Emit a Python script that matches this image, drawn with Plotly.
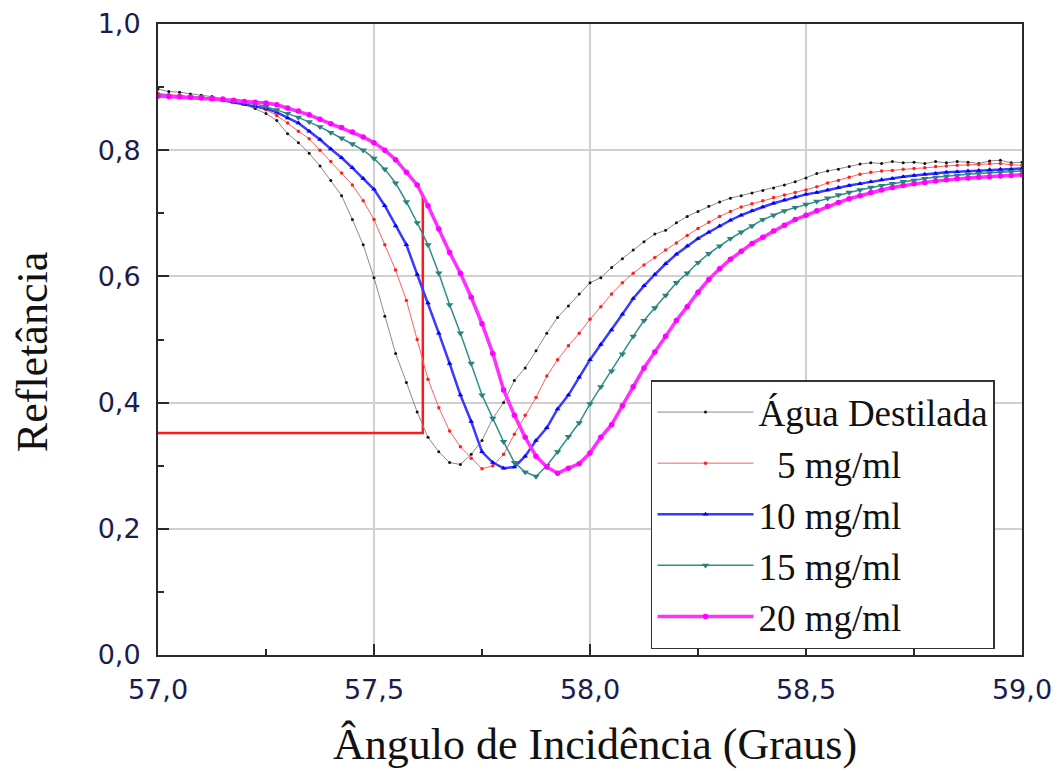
import numpy as np
import plotly.graph_objects as go

# Angle of incidence (degrees), step 0.025
angles = [round(57.0 + 0.025 * i, 3) for i in range(81)]

agua = [0.897, 0.893, 0.892, 0.889, 0.887, 0.885, 0.882, 0.878, 0.873, 0.866,
        0.858, 0.847, 0.826, 0.812, 0.795, 0.775, 0.752, 0.728, 0.690, 0.650,
        0.598, 0.537, 0.478, 0.432, 0.385, 0.345, 0.322, 0.305, 0.302, 0.318,
        0.340, 0.375, 0.400, 0.435, 0.455, 0.482, 0.510, 0.535, 0.553, 0.572,
        0.590, 0.598, 0.614, 0.628, 0.642, 0.655, 0.667, 0.673, 0.685, 0.695,
        0.703, 0.711, 0.718, 0.724, 0.728, 0.732, 0.736, 0.740, 0.745, 0.750,
        0.756, 0.763, 0.767, 0.770, 0.774, 0.778, 0.780, 0.779, 0.782, 0.780,
        0.781, 0.779, 0.782, 0.780, 0.782, 0.781, 0.779, 0.783, 0.784, 0.780,
        0.781]

c5 = [0.890, 0.888, 0.887, 0.885, 0.884, 0.882, 0.880, 0.877, 0.874, 0.869,
      0.864, 0.855, 0.843, 0.830, 0.818, 0.800, 0.782, 0.764, 0.745, 0.720,
      0.690, 0.650, 0.610, 0.562, 0.500, 0.437, 0.392, 0.355, 0.330, 0.312,
      0.295, 0.300, 0.318, 0.350, 0.380, 0.408, 0.442, 0.468, 0.490, 0.510,
      0.532, 0.552, 0.572, 0.590, 0.605, 0.618, 0.630, 0.642, 0.653, 0.665,
      0.676, 0.686, 0.695, 0.703, 0.710, 0.715, 0.720, 0.725, 0.729, 0.733,
      0.737, 0.742, 0.748, 0.752, 0.757, 0.762, 0.765, 0.767, 0.768, 0.770,
      0.771, 0.772, 0.774, 0.775, 0.776, 0.777, 0.777, 0.779, 0.779, 0.777,
      0.776]

c10 = [0.887, 0.886, 0.885, 0.884, 0.883, 0.881, 0.879, 0.876, 0.873, 0.870,
       0.866, 0.860, 0.851, 0.843, 0.830, 0.817, 0.802, 0.788, 0.772, 0.755,
       0.738, 0.712, 0.680, 0.650, 0.603, 0.558, 0.510, 0.462, 0.412, 0.370,
       0.322, 0.305, 0.296, 0.298, 0.315, 0.340, 0.360, 0.390, 0.412, 0.440,
       0.468, 0.492, 0.515, 0.540, 0.565, 0.585, 0.603, 0.620, 0.635, 0.648,
       0.660, 0.670, 0.680, 0.689, 0.697, 0.704, 0.710, 0.716, 0.721, 0.726,
       0.730, 0.733, 0.737, 0.741, 0.744, 0.747, 0.750, 0.753, 0.755, 0.758,
       0.760, 0.762, 0.763, 0.765, 0.766, 0.767, 0.768, 0.769, 0.770, 0.770,
       0.771]

c15 = [0.886, 0.885, 0.885, 0.884, 0.883, 0.882, 0.880, 0.878, 0.876, 0.873,
       0.869, 0.864, 0.858, 0.852, 0.845, 0.837, 0.828, 0.819, 0.810, 0.800,
       0.787, 0.770, 0.748, 0.718, 0.685, 0.650, 0.605, 0.555, 0.510, 0.462,
       0.412, 0.375, 0.338, 0.305, 0.290, 0.283, 0.300, 0.322, 0.346, 0.368,
       0.398, 0.425, 0.450, 0.477, 0.505, 0.530, 0.550, 0.570, 0.590, 0.605,
       0.622, 0.636, 0.648, 0.660, 0.670, 0.680, 0.690, 0.697, 0.704, 0.709,
       0.714, 0.719, 0.724, 0.729, 0.733, 0.737, 0.741, 0.744, 0.747, 0.750,
       0.752, 0.755, 0.757, 0.759, 0.760, 0.762, 0.763, 0.764, 0.765, 0.766,
       0.767]

c20 = [0.886, 0.885, 0.885, 0.884, 0.883, 0.882, 0.881, 0.879, 0.877, 0.876,
       0.875, 0.872, 0.867, 0.862, 0.856, 0.849, 0.842, 0.836, 0.829, 0.821,
       0.812, 0.800, 0.785, 0.765, 0.745, 0.712, 0.675, 0.638, 0.605, 0.567,
       0.525, 0.478, 0.420, 0.380, 0.345, 0.315, 0.298, 0.288, 0.296, 0.303,
       0.320, 0.345, 0.365, 0.395, 0.425, 0.455, 0.480, 0.505, 0.530, 0.552,
       0.575, 0.595, 0.612, 0.627, 0.640, 0.652, 0.662, 0.672, 0.681, 0.690,
       0.697, 0.704, 0.711, 0.717, 0.723, 0.728, 0.733, 0.737, 0.741, 0.744,
       0.747, 0.749, 0.751, 0.753, 0.755, 0.756, 0.757, 0.758, 0.759, 0.760,
       0.761]

# red guide lines (resonance angle marker)
guide_x = [57.0, 57.613, 57.613]
guide_y = [0.352, 0.352, 0.729]

series_names = ["Água Destilada", "\u00a0\u00a05 mg/ml", "10 mg/ml", "15 mg/ml", "20 mg/ml"]
series_vals = [agua, c5, c10, c15, c20]
line_colors = ["#8a8a8a", "#ff6060", "#3a3aff", "#2e8f88", "#ff30ff"]
marker_colors = ["#111111", "#ff2020", "#0000ff", "#2a827c", "#ff00ff"]
marker_symbols = ["circle", "circle", "triangle-up", "triangle-down", "circle"]
marker_sizes = [3, 3.5, 5, 6.5, 5.5]
line_widths = [1, 1, 2.5, 1.5, 3.5]

x_title = "Ângulo de Incidência (Graus)"
y_title = "Refletância"

fig = go.Figure()

fig.add_trace(go.Scatter(x=guide_x, y=guide_y, mode="lines",
                         line=dict(color="#ff1a1a", width=2.5),
                         showlegend=False, hoverinfo="skip"))

for i in range(5):
    fig.add_trace(go.Scatter(
        x=angles, y=series_vals[i], mode="lines+markers", name=series_names[i],
        line=dict(color=line_colors[i], width=line_widths[i]),
        marker=dict(color=marker_colors[i], symbol=marker_symbols[i],
                    size=marker_sizes[i], line=dict(width=0)),
    ))

tick_font = dict(family="DejaVu Sans", size=27, color="#1c1c4c")
title_font = dict(family="Liberation Serif", size=44, color="#111111")

axis_common = dict(
    showline=True, linecolor="#2a2a2a", linewidth=2, mirror=True,
    ticks="inside", ticklen=11, tickcolor="#2a2a2a", tickwidth=1.5,
    showgrid=True, gridcolor="#d0d0d0", gridwidth=1.5,
    zeroline=False, automargin=False,
    tickfont=tick_font, tickformat=".1f",
)

fig.update_xaxes(range=[57.0, 59.0], dtick=0.5, tick0=57.0,
                 ticklabelstandoff=10,
                 minor=dict(ticks="inside", dtick=0.25, ticklen=6, tickcolor="#2a2a2a", showgrid=False),
                 **axis_common)
fig.update_yaxes(range=[0.0, 1.0], dtick=0.2, tick0=0.0,
                 ticklabelstandoff=10,
                 minor=dict(ticks="inside", dtick=0.1, ticklen=6, tickcolor="#2a2a2a", showgrid=False),
                 **axis_common)

fig.add_annotation(text=x_title, xref="paper", yref="paper", x=0.5058, y=-0.1426,
                   xanchor="center", yanchor="middle", showarrow=False, font=title_font)
fig.add_annotation(text=y_title, xref="paper", yref="paper", x=-0.1458, y=0.480,
                   xanchor="center", yanchor="middle", textangle=-90,
                   showarrow=False, font=title_font)

fig.update_layout(
    width=1059, height=771,
    margin=dict(l=158, r=37, t=24, b=116),
    paper_bgcolor="white", plot_bgcolor="white",
    separators=",.",
    legend=dict(
        x=0.5706, y=0.4358, xanchor="left", yanchor="top",
        bgcolor="white", bordercolor="#333333", borderwidth=1.5,
        font=dict(family="Liberation Serif", size=37, color="#111111"),
        itemwidth=96, tracegroupgap=0,
    ),
)

fig.write_html("out.html", config={"displayModeBar": False},
               post_script="document.body.style.margin='0';")
